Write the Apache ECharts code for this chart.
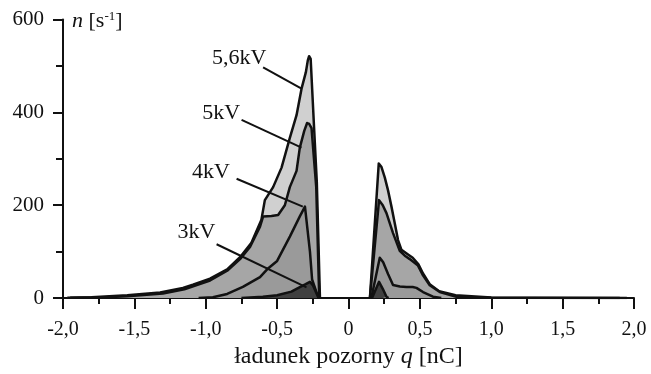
<!DOCTYPE html>
<html>
<head>
<meta charset="utf-8">
<script src="https://cdn.jsdelivr.net/npm/echarts@6/dist/echarts.min.js"></script>
<style>
  html, body { margin: 0; padding: 0; background: #fff; }
  #chart { width: 651px; height: 374px; }
</style>
</head>
<body>
<div id="chart"></div>
<script>
// ładunek pozorny q [nC] / n [s^-1], left (negative) and right (positive) clusters
const q56L = [-1.97, -1.8, -1.55, -1.32, -1.16, -1.09, -0.97, -0.85, -0.76, -0.68, -0.61, -0.586, -0.528, -0.469, -0.411, -0.364, -0.329, -0.299, -0.285, -0.276, -0.265, -0.24, -0.222, -0.2]
const n56L = [0.5, 2, 6, 12, 22, 29, 42, 62, 88, 119, 169, 211, 239, 281, 345, 394, 451, 486, 512, 521, 515, 360, 250, 0]
const q5L = [-1.95, -1.7, -1.55, -1.3, -1.15, -0.97, -0.85, -0.76, -0.69, -0.62, -0.598, -0.54, -0.493, -0.446, -0.411, -0.364, -0.341, -0.31, -0.29, -0.275, -0.259, -0.226, -0.205]
const n5L = [0.5, 2, 4, 10, 19, 38, 59, 84, 110, 154, 176, 177, 179, 200, 239, 274, 324, 360, 377, 375, 366, 239, 0]
const q4L = [-1.05, -0.95, -0.85, -0.74, -0.66, -0.62, -0.57, -0.5, -0.41, -0.341, -0.305, -0.294, -0.27, -0.255, -0.21]
const n4L = [0, 2, 9, 24, 38, 45, 62, 80, 133, 176, 197, 200, 100, 40, 0]
const q3L = [-0.75, -0.6, -0.5, -0.4, -0.364, -0.3, -0.27, -0.25, -0.21]
const n3L = [0, 3, 6, 14, 20, 30, 35, 28, 0]

const q56R = [0.15, 0.212, 0.23, 0.254, 0.277, 0.301, 0.324, 0.347, 0.371, 0.417, 0.45, 0.49, 0.522, 0.569, 0.635, 0.75, 1.0, 1.3, 1.95]
const n56R = [0, 290, 283, 260, 232, 197, 161, 125, 104, 94, 87, 73, 53, 30, 15, 6, 1.5, 0.5, 0]
const q5R = [0.15, 0.214, 0.24, 0.266, 0.312, 0.359, 0.4, 0.429, 0.487, 0.522, 0.569, 0.639, 0.756, 1.0, 1.9]
const n5R = [0, 211, 200, 183, 140, 102, 90, 84, 70, 49, 27.5, 13, 3, 1, 0]
const q4R = [0.16, 0.219, 0.243, 0.277, 0.312, 0.36, 0.406, 0.45, 0.476, 0.522, 0.592, 0.65]
const n4R = [0, 87, 77, 52, 28, 25, 24, 24, 22, 13, 3, 0]
const q3R = [0.165, 0.214, 0.24, 0.266, 0.28]
const n3R = [0, 35, 20, 3, 0]

// voltage labels with leader lines (text anchor, line start, line end)
const labelNames = ['5,6kV', '5kV', '4kV', '3kV']
const labelPos = [[-0.765, 516], [-0.891, 399], [-0.964, 271], [-1.066, 141]]
const leaderFrom = [[-0.598, 497], [-0.749, 384], [-0.784, 257], [-0.924, 116]]
const leaderTo = [[-0.329, 451], [-0.329, 324], [-0.32, 197], [-0.294, 23]]

const xTicks = { '-2': '-2,0', '-1.5': '-1,5', '-1': '-1,0', '-0.5': '-0,5', '0': '0', '0.5': '0,5', '1': '1,0', '1.5': '1,5', '2': '2,0' }

const serif = "'Liberation Serif', 'DejaVu Serif', serif"
const ink = '#111'

const zip = (xs, ys) => xs.map((x, i) => [x, ys[i]])

const fills = [
  { name: '5,6kV', color: '#d0d0d0', parts: [zip(q56L, n56L), zip(q56R, n56R)] },
  { name: '5kV', color: '#a6a6a6', parts: [zip(q5L, n5L), zip(q5R, n5R)] },
  { name: '4kV', color: '#9a9a9a', parts: [zip(q4L, n4L), zip(q4R, n4R)] },
  { name: '3kV', color: '#404040', parts: [zip(q3L, n3L), zip(q3R, n3R)] }
]

const series = []
fills.forEach((f, k) => {
  f.parts.forEach(data => {
    series.push({
      name: f.name,
      type: 'line',
      data: data,
      symbol: 'none',
      smooth: false,
      z: 2 + k,
      lineStyle: { color: ink, width: 2.5, join: 'round' },
      areaStyle: { color: f.color, opacity: 1 }
    })
  })
})

labelNames.forEach((_, i) => {
  series.push({
    type: 'line',
    data: [leaderFrom[i], leaderTo[i]],
    symbol: 'none',
    z: 10,
    lineStyle: { color: ink, width: 2 }
  })
})

series.push({
  type: 'scatter',
  symbolSize: 0,
  z: 11,
  itemStyle: { opacity: 1 },
  data: labelPos.map((p, i) => [p[0], p[1], labelNames[i]]),
  label: {
    show: true,
    position: 'inside',
    formatter: p => p.value[2],
    fontFamily: serif,
    fontSize: 22,
    color: ink
  }
})

const chart = echarts.init(document.getElementById('chart'))

chart.setOption({
  animation: false,
  grid: { left: 63, right: 17, top: 19.5, bottom: 71, containLabel: false },
  xAxis: {
    type: 'value',
    min: -2,
    max: 2,
    interval: 0.5,
    name: 'ładunek pozorny {i|q} [nC]',
    nameLocation: 'middle',
    nameGap: 45,
    nameTextStyle: {
      fontFamily: serif,
      fontSize: 24,
      color: ink,
      rich: { i: { fontFamily: serif, fontSize: 24, fontStyle: 'italic', color: ink } }
    },
    axisLine: { onZero: false, lineStyle: { color: ink, width: 2 } },
    axisTick: { show: true, length: 11, lineStyle: { color: ink, width: 2 } },
    minorTick: { show: true, splitNumber: 2, length: 6, lineStyle: { color: ink, width: 2 } },
    splitLine: { show: false },
    axisLabel: {
      margin: 22,
      fontFamily: serif,
      fontSize: 20,
      color: ink,
      formatter: v => xTicks[String(v)] || ''
    }
  },
  yAxis: {
    type: 'value',
    min: 0,
    max: 600,
    interval: 200,
    axisLine: { show: true, onZero: false, lineStyle: { color: ink, width: 2 } },
    axisTick: { show: true, length: 10, lineStyle: { color: ink, width: 2 } },
    minorTick: { show: true, splitNumber: 2, length: 7, lineStyle: { color: ink, width: 2 } },
    splitLine: { show: false },
    axisLabel: {
      margin: 19,
      fontFamily: serif,
      fontSize: 21,
      color: ink
    }
  },
  graphic: [{
    type: 'text',
    left: 72,
    top: 10,
    style: {
      text: '{i|n} [s{sup|-1}]',
      fontFamily: serif,
      fontSize: 22,
      fill: ink,
      rich: {
        i: { fontFamily: serif, fontSize: 22, fontStyle: 'italic', fill: ink },
        sup: { fontFamily: serif, fontSize: 13, fill: ink, verticalAlign: 'top', padding: [0, 0, 10, 0] }
      }
    }
  }],
  series: series
})
</script>
</body>
</html>
